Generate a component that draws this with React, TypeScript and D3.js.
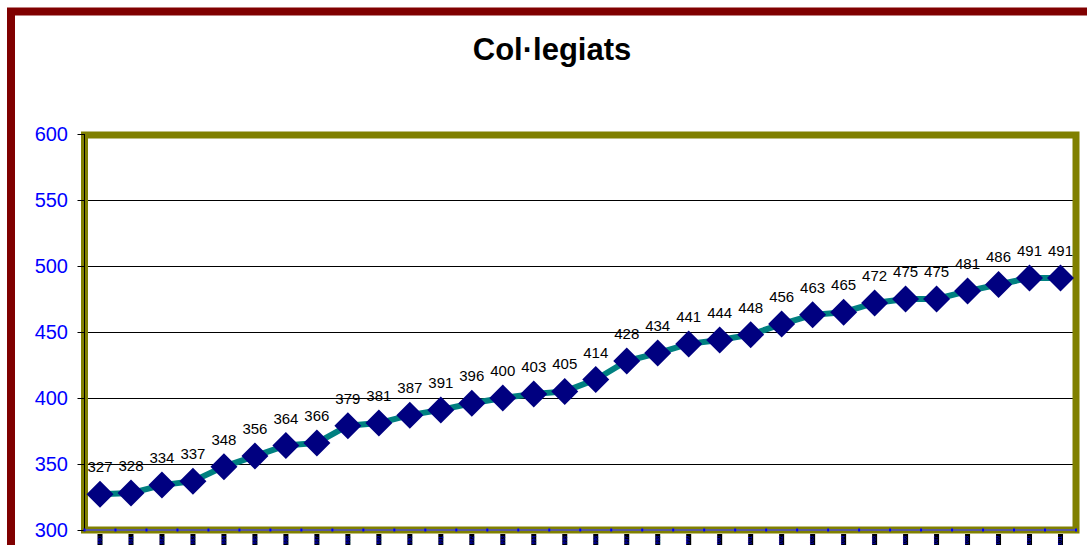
import React from "react";
import * as d3 from "d3";

const title = "Col·legiats";
const categories = [
  "1980","1981","1982","1983","1984","1985","1986","1987","1988","1989","1990","1991","1992","1993","1994","1995",
  "1996","1997","1998","1999","2000","2001","2002","2003","2004","2005","2006","2007","2008","2009","2010","2011",
];
const values = [
  327, 328, 334, 337, 348, 356, 364, 366, 379, 381, 387, 391, 396, 400, 403, 405,
  414, 428, 434, 441, 444, 448, 456, 463, 465, 472, 475, 475, 481, 486, 491, 491,
];
const yTicks = [300, 350, 400, 450, 500, 550, 600];

export default function App() {
  const W = 1087, H = 545;
  const left = 84.5, right = 1076, top = 134, bottom = 530;
  const x = d3.scaleBand<string>().domain(categories).range([left, right]);
  const y = d3.scaleLinear().domain([300, 600]).range([bottom, top]);
  const cx = (c: string) => (x(c) as number) + x.bandwidth() / 2;
  const line = d3.line<number>().x((_, i) => cx(categories[i])).y((v) => y(v));
  const r = 13.5;
  const diamond = (px: number, py: number) =>
    `M${px},${py - r}L${px + r},${py}L${px},${py + r}L${px - r},${py}Z`;

  return (
    <svg width={W} height={H} style={{ position: "absolute", left: 0, top: 0, background: "#fff" }}
      fontFamily="'Liberation Sans', Arial, sans-serif">
      <rect x={0} y={0} width={W} height={H} fill="#fff" />
      {/* outer border */}
      <rect x={11} y={11.5} width={W + 20} height={H + 20} fill="none" stroke="#800000" strokeWidth={8} />
      <text x={552} y={60} textAnchor="middle" fontSize={31} fontWeight="bold" fill="#000">{title}</text>

      {/* grid lines */}
      {yTicks.map((t) => (
        <line key={"g" + t} x1={left} x2={right} y1={y(t) + 0.5} y2={y(t) + 0.5} stroke="#000" strokeWidth={1} />
      ))}
      {/* plot border */}
      <rect x={left} y={top + 1} width={right - left} height={bottom - top - 1} fill="none" stroke="#808000" strokeWidth={7} />
      {/* y axis */}
      <line x1={left} x2={left} y1={top} y2={bottom} stroke="#000" strokeWidth={1} />
      {yTicks.map((t) => (
        <g key={"yt" + t}>
          <line x1={left - 7} x2={left} y1={y(t) + 0.5} y2={y(t) + 0.5} stroke="#000" strokeWidth={1} />
          <text x={68} y={y(t)} dy="0.36em" textAnchor="end" fontSize={20} fill="#0000ff">{t}</text>
        </g>
      ))}
      {/* x axis */}
      <line x1={left} x2={right} y1={bottom} y2={bottom} stroke="#5858a0" strokeWidth={2} />
      {categories.map((c) => (
        <rect key={"xt" + c} x={(x(c) as number) - 1} y={bottom - 1.5} width={2} height={3} fill="#0000ff" />
      ))}
      <rect x={right - 1} y={bottom - 1.5} width={2} height={3} fill="#0000ff" />
      {categories.map((c) => (
        <g key={"xl" + c}>
          <rect x={cx(c) - 2.5} y={534} width={5} height={20} fill="#000" />
          <text transform={`translate(${cx(c) + 1.8},536) rotate(-90)`} textAnchor="end" fontSize={5} fill="#0000ff">{c}</text>
        </g>
      ))}

      {/* series */}
      <path d={line(values) || ""} fill="none" stroke="#008080" strokeWidth={6} />
      {values.map((v, i) => (
        <path key={"m" + i} d={diamond(cx(categories[i]), y(v))} fill="#000080" />
      ))}
      {values.map((v, i) => (
        <text key={"l" + i} x={cx(categories[i])} y={y(v) - 22} textAnchor="middle" fontSize={15} fill="#000">{v}</text>
      ))}
    </svg>
  );
}
